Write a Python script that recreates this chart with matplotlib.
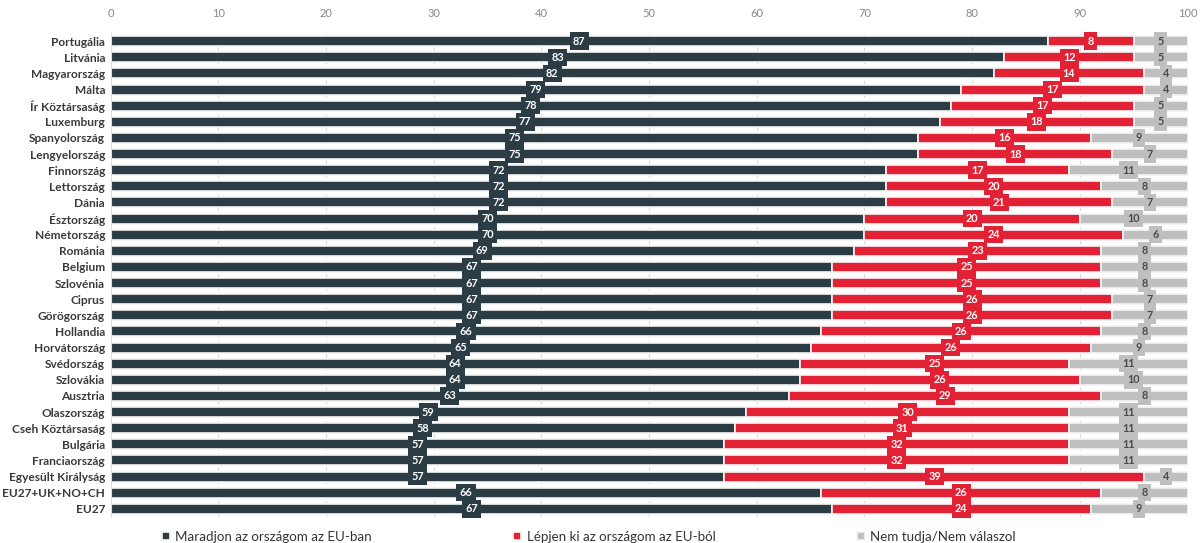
import numpy as np
import matplotlib
matplotlib.use("Agg")
import matplotlib.pyplot as plt

countries = ["Portugália", "Litvánia", "Magyarország", "Málta", "Ír Köztársaság",
             "Luxemburg", "Spanyolország", "Lengyelország", "Finnország", "Lettország",
             "Dánia", "Észtország", "Németország", "Románia", "Belgium", "Szlovénia",
             "Ciprus", "Görögország", "Hollandia", "Horvátország", "Svédország",
             "Szlovákia", "Ausztria", "Olaszország", "Cseh Köztársaság", "Bulgária",
             "Franciaország", "Egyesült Királyság", "EU27+UK+NO+CH", "EU27"]
remain = [87, 83, 82, 79, 78, 77, 75, 75, 72, 72, 72, 70, 70, 69, 67, 67, 67, 67,
          66, 65, 64, 64, 63, 59, 58, 57, 57, 57, 66, 67]
leave = [8, 12, 14, 17, 17, 18, 16, 18, 17, 20, 21, 20, 24, 23, 25, 25, 26, 26,
         26, 26, 25, 26, 29, 30, 31, 32, 32, 39, 26, 24]
dunno = [5, 5, 4, 4, 5, 5, 9, 7, 11, 8, 7, 10, 6, 8, 8, 8, 7, 7,
         8, 9, 11, 10, 8, 11, 11, 11, 11, 4, 8, 9]
series_names = ["Maradjon az országom az EU-ban", "Lépjen ki az országom az EU-ból",
                "Nem tudja/Nem válaszol"]

dark = "#2b3c45"
red = "#e22135"
grey = "#bfbfbf"
colors = [dark, red, grey]
text_colors = ["white", "white", "#4a4a4a"]

font = ["Lato", "DejaVu Sans"]

fig = plt.figure(figsize=(12.02, 5.43), dpi=100)
ax = fig.add_axes([0.092, 0.048, 0.896, 0.891])

y = np.arange(len(countries))
remain = np.array(remain)
leave = np.array(leave)
dunno = np.array(dunno)
lefts = [np.zeros(len(y)), remain, remain + leave]
vals = [remain, leave, dunno]

for i in range(3):
    ax.barh(y, vals[i], left=lefts[i], height=0.62, color=colors[i],
            edgecolor="#f4f4f4", linewidth=1.2, label=series_names[i], zorder=2)
    for k in range(len(y)):
        cx = lefts[i][k] + vals[i][k] / 2
        ax.text(cx, y[k], str(vals[i][k]), ha="center", va="center",
                fontsize=7.8, fontweight="bold", color=text_colors[i],
                family=font, zorder=4,
                bbox=dict(boxstyle="square,pad=0.3", fc=colors[i], ec="none"))

ax.set_xlim(0, 100)
ax.set_ylim(len(y) - 0.5, -0.5)
ax.set_yticks(y)
ax.set_yticklabels(countries, family=font, fontweight="bold", fontsize=8.6,
                   color="#3a3a3a")
ax.set_xticks(np.arange(0, 101, 10))
ax.xaxis.tick_top()
ax.tick_params(axis="x", length=0, labelsize=8, labelcolor="#888888", pad=10)
ax.tick_params(axis="y", length=0, pad=4)
for lab in ax.get_xticklabels():
    lab.set_family(font)
ax.grid(axis="x", color="#d8d8d8", linestyle=(0, (3, 3)), linewidth=0.8, zorder=0)
for s in ["top", "right", "bottom"]:
    ax.spines[s].set_visible(False)
ax.spines["left"].set_color("#dddddd")

leg = fig.legend(loc="lower center", bbox_to_anchor=(0.49, -0.022), ncol=3,
                 frameon=False, handlelength=0.6, handleheight=0.6,
                 columnspacing=10.6, handletextpad=0.4,
                 prop={"family": font, "size": 9.6})
for t in leg.get_texts():
    t.set_color("#333333")

fig.savefig("out.png", dpi=100)
